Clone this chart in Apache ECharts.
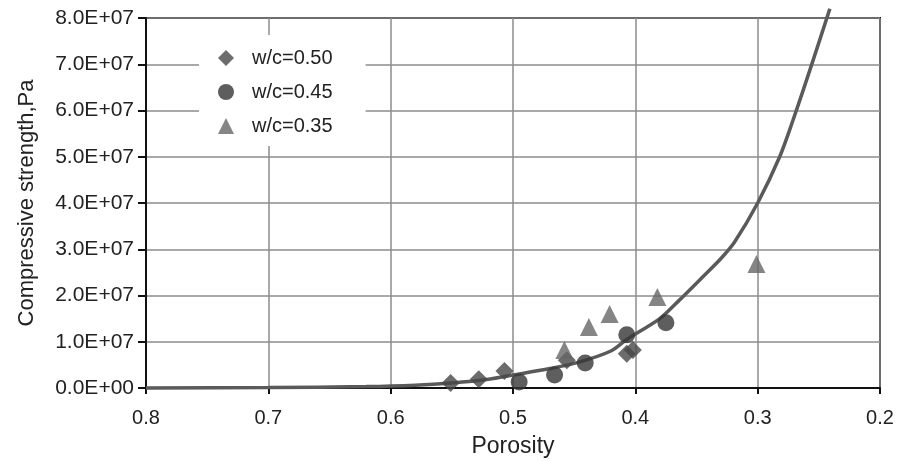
<!DOCTYPE html>
<html>
<head>
<meta charset="utf-8">
<script src="https://cdn.jsdelivr.net/npm/echarts@6/dist/echarts.min.js"></script>
<style>
  html, body { margin: 0; padding: 0; background: #fff; }
  #main { width: 898px; height: 461px; }
</style>
</head>
<body>
<div id="main"></div>
<script>
// fitted curve
var curveX = [0.80, 0.70, 0.62, 0.58, 0.55, 0.52, 0.50, 0.47, 0.446, 0.42, 0.407, 0.38, 0.364, 0.345, 0.33, 0.319, 0.30, 0.282, 0.271, 0.257, 0.241];
var curveY = [0, 1e5, 3e5, 6e5, 1.1e6, 1.9e6, 2.8e6, 4.2e6, 5.6e6, 8.0e6, 1.05e7, 1.5e7, 1.9e7, 2.4e7, 2.8e7, 3.15e7, 4.0e7, 5.0e7, 5.8e7, 6.9e7, 8.2e7];

// measured points
var wc50X = [0.551, 0.528, 0.507, 0.456, 0.407, 0.402];
var wc50Y = [1.1e6, 1.9e6, 3.7e6, 6.0e6, 7.4e6, 8.2e6];
var wc45X = [0.495, 0.466, 0.441, 0.407, 0.375];
var wc45Y = [1.3e6, 2.8e6, 5.4e6, 1.15e7, 1.41e7];
var wc35X = [0.458, 0.438, 0.421, 0.382, 0.301];
var wc35Y = [8.2e6, 1.32e7, 1.6e7, 1.97e7, 2.68e7];

function pairs(xs, ys) {
    return xs.map(function (x, i) { return [x, ys[i]]; });
}

var myChart = echarts.init(document.getElementById('main'));

var option = {
    backgroundColor: '#fff',
    animation: false,
    textStyle: { fontFamily: 'Liberation Sans, Arial, sans-serif' },
    grid: {
        left: 146, right: 18, top: 18, bottom: 73,
        outerBoundsMode: 'none',
        show: true,
        borderColor: '#111',
        borderWidth: 2
    },
    legend: {
        orient: 'vertical',
        left: 199,
        top: 35,
        itemGap: 14,
        itemWidth: 16,
        itemHeight: 16,
        backgroundColor: '#fff',
        padding: [13, 33, 10, 19],
        textStyle: { fontSize: 20, lineHeight: 16, color: '#222', padding: [0, 0, 0, 13] },
        data: ['w/c=0.50', 'w/c=0.45', 'w/c=0.35']
    },
    xAxis: {
        type: 'value',
        min: 0.2,
        max: 0.8,
        interval: 0.1,
        inverse: true,
        name: 'Porosity',
        nameLocation: 'middle',
        nameGap: 47,
        nameTextStyle: { fontSize: 23, color: '#222' },
        axisLine: { onZero: false, lineStyle: { color: '#111', width: 2 } },
        axisTick: { show: true, length: 6, lineStyle: { color: '#111', width: 2 } },
        axisLabel: {
            fontSize: 20, color: '#222', margin: 20,
            formatter: function (v) { return v.toFixed(1); }
        },
        splitLine: { show: true, lineStyle: { color: '#8c8c8c', width: 1.5 } }
    },
    yAxis: {
        type: 'value',
        min: 0,
        max: 8e7,
        interval: 1e7,
        name: 'Compressive strength,Pa',
        nameLocation: 'middle',
        nameGap: 108,
        nameTextStyle: { fontSize: 22, color: '#222' },
        axisLine: { show: true, lineStyle: { color: '#111', width: 2 } },
        axisTick: { show: true, length: 8, lineStyle: { color: '#111', width: 2 } },
        axisLabel: {
            fontSize: 21, color: '#222', margin: 12,
            formatter: function (v) {
                if (v === 0) return '0.0E+00';
                return (v / 1e7).toFixed(1) + 'E+07';
            }
        },
        splitLine: { show: true, lineStyle: { color: '#8c8c8c', width: 1.5 } }
    },
    series: [
        {
            name: 'fit',
            type: 'line',
            data: pairs(curveX, curveY),
            smooth: 0.3,
            showSymbol: false,
            symbol: 'none',
            clip: false,
            lineStyle: { color: '#5a5a5a', width: 3.5 },
            z: 2
        },
        {
            name: 'w/c=0.50',
            type: 'scatter',
            symbol: 'diamond',
            symbolSize: 18,
            data: pairs(wc50X, wc50Y),
            itemStyle: { color: '#474747' },
            z: 3
        },
        {
            name: 'w/c=0.45',
            type: 'scatter',
            symbol: 'circle',
            symbolSize: 17,
            data: pairs(wc45X, wc45Y),
            itemStyle: { color: '#363636' },
            z: 3
        },
        {
            name: 'w/c=0.35',
            type: 'scatter',
            symbol: 'triangle',
            symbolSize: 18,
            data: pairs(wc35X, wc35Y),
            itemStyle: { color: '#666666' },
            z: 3
        }
    ]
};

myChart.setOption(option);
</script>
</body>
</html>
